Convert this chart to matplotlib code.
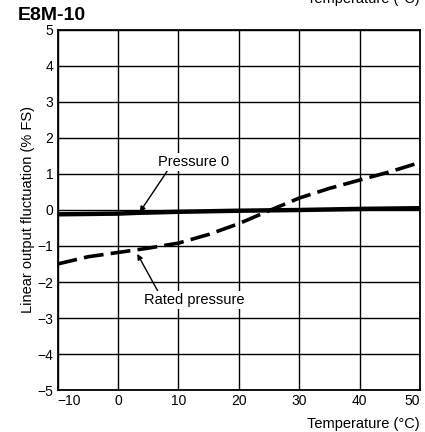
import numpy as np
import matplotlib
matplotlib.use("Agg")
import matplotlib.pyplot as plt

# ---------------------------------------------
# Dados
# ---------------------------------------------
temp_p0 = [-10, 0, 3, 10, 20, 30, 40, 50]
fluct_p0 = [-0.12, -0.1, -0.08, -0.05, -0.02, 0.0, 0.03, 0.05]

temp_rated = [-10, -5, 0, 5, 10, 15, 20, 25, 30, 35, 40, 45, 50]
fluct_rated = [-1.5, -1.3, -1.18, -1.06, -0.92, -0.68, -0.38, -0.02, 0.33, 0.6, 0.83, 1.06, 1.32]

x_ticks = [-10, 0, 10, 20, 30, 40, 50]
y_ticks = [-5, -4, -3, -2, -1, 0, 1, 2, 3, 4, 5]

# ---------------------------------------------
# Gráfico
# ---------------------------------------------
plt.rcParams['font.family'] = ['Liberation Sans', 'DejaVu Sans']

fig = plt.figure(figsize=(4.25, 4.32), dpi=100)
ax = fig.add_axes([0.1355, 0.0972, 0.8525, 0.8334])

ax.plot(temp_p0, fluct_p0, color='black', lw=3.2, solid_capstyle='butt')
ax.plot(temp_rated, fluct_rated, color='black', lw=2.6, dashes=(5.5, 2.0))

ax.set_xlim(-10, 50)
ax.set_ylim(-5, 5)
ax.set_xticks(x_ticks)
ax.set_yticks(y_ticks)
ax.set_xticklabels([str(t).replace('-', '\u2212') for t in x_ticks], fontsize=10)
ax.set_yticklabels([str(t).replace('-', '\u2212') for t in y_ticks], fontsize=10)
for lbl in ax.get_xticklabels():
    if lbl.get_text() == '\u221210':
        lbl.set_horizontalalignment('left')
    if lbl.get_text() == '50':
        lbl.set_horizontalalignment('right')
ax.tick_params(length=0, pad=3)
ax.grid(True, color='black', lw=1.0)
for s in ax.spines.values():
    s.set_linewidth(1.3)

ax.set_ylabel('Linear output fluctuation (% FS)', fontsize=10.5, labelpad=2)
ax.text(1.0, -0.075, 'Temperature (\u00b0C)', transform=ax.transAxes,
        ha='right', va='top', fontsize=10.5)

# Anotações
caixa = dict(boxstyle='square,pad=0.15', fc='white', ec='none')
ax.annotate('Pressure 0', xy=(3.6, -0.06), xytext=(12.5, 1.33),
            ha='center', va='center', fontsize=10.5, bbox=caixa,
            arrowprops=dict(arrowstyle='-|>', color='black', lw=1.0,
                            relpos=(0.15, 0.0), shrinkA=0, shrinkB=0,
                            mutation_scale=8))
ax.annotate('Rated pressure', xy=(3.2, -1.22), xytext=(12.6, -2.5),
            ha='center', va='center', fontsize=10.5, bbox=caixa,
            arrowprops=dict(arrowstyle='-|>', color='black', lw=1.0,
                            relpos=(0.15, 1.0), shrinkA=0, shrinkB=0,
                            mutation_scale=8))

fig.text(18 / 425, 1 - 16 / 432, 'E8M-10', fontsize=14, fontweight='bold',
         ha='left', va='center')
fig.text(420 / 425, 1 + 1 / 432, 'Temperature (\u00b0C)', fontsize=10.5,
         ha='right', va='center')

fig.savefig('out.png', dpi=100)
